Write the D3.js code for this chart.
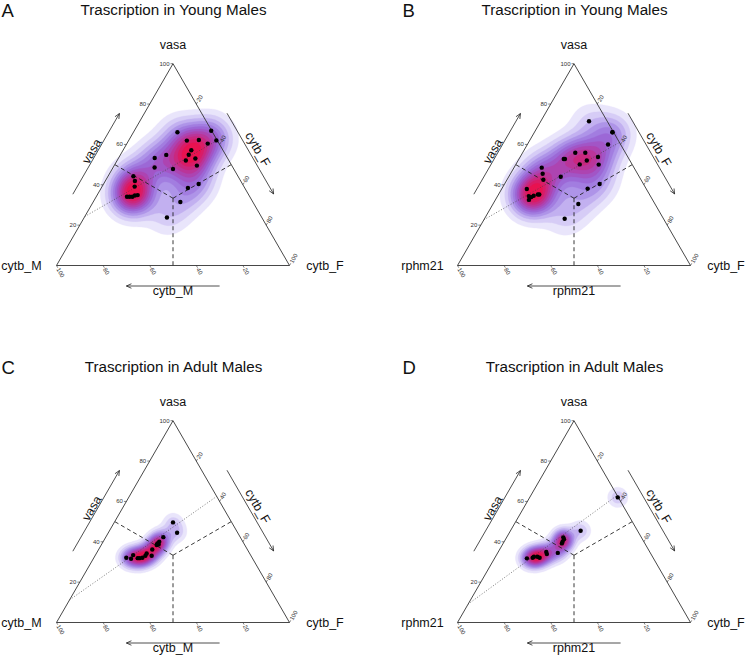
<!DOCTYPE html>
<html><head><meta charset="utf-8">
<script src="https://cdn.jsdelivr.net/npm/d3@7"></script>
<style>
body{margin:0;background:#fff}
text{font-family:"Liberation Sans",Arial,Helvetica,sans-serif;fill:#111}
</style>
</head><body>
<svg id="chart" width="745" height="657"></svg>
<script>
// ---------------- data ----------------
const panelLetters = ["A", "B", "C", "D"];
const panelTitles = ["Trascription in Young Males", "Trascription in Young Males",
                     "Trascription in Adult Males", "Trascription in Adult Males"];
const topLabels = ["vasa", "vasa", "vasa", "vasa"];
const leftLabels = ["cytb_M", "rphm21", "cytb_M", "rphm21"];
const rightLabels = ["cytb_F", "cytb_F", "cytb_F", "cytb_F"];
const tickValues = [20, 40, 60, 80, 100];

// each point: [vasa %, cytb_F %]  (left-corner gene = 100 - vasa - cytb_F)
const youngCytbM = [
  [66.0,18.9],[66.8,33.0],[62.0,37.6],[61.9,25.0],[62.2,30.0],[60.4,34.7],[57.1,29.3],
  [54.9,29.3],[53.0,33.1],[52.0,29.5],[49.5,35.5],[53.3,15.5],[54.8,19.7],[48.6,17.8],
  [47.8,26.1],[44.2,10.9],[41.9,12.7],[39.1,14.0],[34.1,13.2],[34.1,14.3],[34.1,15.5],
  [34.7,16.3],[34.9,17.4],[38.4,37.2],[40.4,40.8],[31.5,37.4],[23.8,35.5]
];
const youngRphm21 = [
  [71.5,20.7],[66.0,33.5],[66.0,33.5],[60.0,34.6],[55.9,22.6],[55.9,26.9],[53.8,33.4],
  [52.0,29.5],[50.1,27.4],[50.0,35.6],[52.8,19.2],[52.8,19.7],[48.5,11.9],[45.5,13.8],
  [42.5,15.6],[44.0,22.3],[37.9,10.8],[34.4,13.4],[33.9,14.7],[34.6,15.4],[35.2,16.9],
  [32.5,14.4],[35.2,17.5],[38.1,36.8],[40.4,40.8],[30.5,36.6],[23.2,34.4]
];
const adultCytbM = [
  [49.6,25.2],[44.5,29.5],[42.3,24.7],[40.0,24.1],[39.2,23.7],[38.7,24.5],[38.4,23.8],
  [36.2,23.0],[33.1,24.3],[34.2,21.6],[33.1,21.6],[32.1,20.8],[31.9,19.7],[31.9,18.9],
  [33.4,16.2],[31.6,16.2],[32.1,13.9]
];
const adultRphm21 = [
  [62.0,37.8],[45.5,30.1],[42.2,24.3],[41.2,25.1],[40.0,25.1],[39.2,25.2],[34.5,25.8],
  [35.0,20.6],[33.9,21.4],[32.1,19.2],[32.6,18.0],[32.6,16.5],[32.1,16.2],[31.8,13.9]
];
const panelPoints = [youngCytbM, youngRphm21, adultCytbM, adultRphm21];

// dotted reference lines: [start, end] as [vasa %, cytb_F %]
const dottedLines = [
  [[24.3, 0], [62.0, 38.0]],
  [[22.7, 0], [61.0, 39.0]],
  [[11.2, 0], [62.5, 37.5]],
  [[9.1, 0], [63.0, 37.0]]
];
// KDE bandwidth (px) per panel
const bandwidths = [14, 14, 7, 7];

// ---------------- layout ----------------
const panelOffsets = [[0, 0], [401, 0], [0, 357], [401, 357]];
const TL = 56.5, TR = 289.5, TB = 265.5;
const TT = TB - (TR - TL) * Math.sqrt(3) / 2;
const densityColors = ["#E9E5FB","#D6CCF6","#C2B0F0","#AE94E8","#A27DE0","#9C68D6",
                       "#A255C6","#AD44B1","#BA3599","#C9287F","#D91C66","#E81250"];

const svg = d3.select("#chart");
const xs = d3.scaleLinear().domain([0, 100]).range([TL, TR]);
const ys = d3.scaleLinear().domain([0, 100]).range([TB, TT]);
const P = (v, f) => [xs(f + v / 2), ys(v)];

function arrow(g, a, b) {
  g.append("line").attr("x1", a[0]).attr("y1", a[1]).attr("x2", b[0]).attr("y2", b[1])
    .attr("stroke", "#222").attr("stroke-width", 0.8);
  const ang = Math.atan2(b[1] - a[1], b[0] - a[0]);
  const L = 5.5, w = 0.42;
  [ang + Math.PI - w, ang + Math.PI + w].forEach(t => {
    g.append("line").attr("x1", b[0]).attr("y1", b[1])
      .attr("x2", b[0] + L * Math.cos(t)).attr("y2", b[1] + L * Math.sin(t))
      .attr("stroke", "#222").attr("stroke-width", 0.8);
  });
}
const add = (p, n, d) => [p[0] + n[0] * d, p[1] + n[1] * d];
const nLeft = [-Math.sqrt(3) / 2, -0.5], nRight = [Math.sqrt(3) / 2, -0.5], nBottom = [0, 1];

panelPoints.forEach((pts, i) => {
  const g = svg.append("g").attr("transform", `translate(${panelOffsets[i][0]},${panelOffsets[i][1]})`);

  // density contours
  const cell = 2, W = 372, H = 330;
  const nx = Math.ceil(W / cell), ny = Math.ceil(H / cell);
  const proj = pts.map(p => P(p[0], p[1]));
  const bw = bandwidths[i];
  const vals = new Array(nx * ny);
  let mx = 0;
  for (let j = 0; j < ny; j++) {
    for (let k = 0; k < nx; k++) {
      const cx = (k + 0.5) * cell, cy = (j + 0.5) * cell;
      let s = 0;
      for (const q of proj) {
        const dx = cx - q[0], dy = cy - q[1];
        s += Math.exp(-(dx * dx + dy * dy) / (2 * bw * bw));
      }
      vals[j * nx + k] = s;
      if (s > mx) mx = s;
    }
  }
  const nLev = densityColors.length;
  const ths = d3.range(nLev).map(k => mx * (0.075 + 0.075 * k));
  const contours = d3.contours().size([nx, ny]).thresholds(ths)(vals);
  const path = d3.geoPath(d3.geoTransform({
    point: function (x, y) { this.stream.point(x * cell, y * cell); }
  }));
  g.append("g").selectAll("path").data(contours).join("path")
    .attr("d", path)
    .attr("fill", (d, k) => densityColors[k])
    .attr("stroke", (d, k) => densityColors[k]).attr("stroke-width", 0.3);

  // triangle
  const A = P(100, 0), BL = P(0, 0), BR = P(0, 100);
  g.append("path").attr("d", `M${A}L${BL}L${BR}Z`).attr("fill", "none")
    .attr("stroke", "#333").attr("stroke-width", 0.9);

  // dashed lines from centroid to edge midpoints
  const C = P(100 / 3, 100 / 3);
  [P(50, 0), P(50, 50), P(0, 50)].forEach(m => {
    g.append("line").attr("x1", C[0]).attr("y1", C[1]).attr("x2", m[0]).attr("y2", m[1])
      .attr("stroke", "#222").attr("stroke-width", 0.9).attr("stroke-dasharray", "4,3");
  });

  // dotted line
  const dl = dottedLines[i].map(p => P(p[0], p[1]));
  g.append("line").attr("x1", dl[0][0]).attr("y1", dl[0][1]).attr("x2", dl[1][0]).attr("y2", dl[1][1])
    .attr("stroke", "#444").attr("stroke-width", 0.7).attr("stroke-dasharray", "1,1.8");

  // points
  g.append("g").selectAll("circle").data(proj).join("circle")
    .attr("cx", d => d[0]).attr("cy", d => d[1]).attr("r", 2.2).attr("fill", "#000");

  // ticks + tick labels
  const tk = g.append("g");
  const dirB = [0.5, Math.sqrt(3) / 2], dirR = [0.5, -Math.sqrt(3) / 2];
  tickValues.forEach(t => {
    let p = P(t, 0);
    tk.append("line").attr("x1", p[0]).attr("y1", p[1]).attr("x2", p[0] - 2.5).attr("y2", p[1])
      .attr("stroke", "#333").attr("stroke-width", 0.6);
    tk.append("text").attr("x", p[0] - 3.5).attr("y", p[1] + 2).attr("text-anchor", "end")
      .attr("font-size", 6).style("fill", "#333").text(t);
    p = P(0, 100 - t);
    let q = add(p, dirB, 2.5);
    tk.append("line").attr("x1", p[0]).attr("y1", p[1]).attr("x2", q[0]).attr("y2", q[1])
      .attr("stroke", "#333").attr("stroke-width", 0.6);
    q = add(p, dirB, 3.2);
    tk.append("text").attr("transform", `translate(${q[0]},${q[1]}) rotate(60)`)
      .attr("dy", "0.35em").attr("font-size", 6).style("fill", "#333").text(t);
    p = P(100 - t, t);
    q = add(p, dirR, 2.5);
    tk.append("line").attr("x1", p[0]).attr("y1", p[1]).attr("x2", q[0]).attr("y2", q[1])
      .attr("stroke", "#333").attr("stroke-width", 0.6);
    q = add(p, dirR, 3.2);
    tk.append("text").attr("transform", `translate(${q[0]},${q[1]}) rotate(-60)`)
      .attr("dy", "0.35em").attr("font-size", 6).style("fill", "#333").text(t);
  });

  // axis arrows
  arrow(g, add(P(30, 0), nLeft, 21.5), add(P(70, 0), nLeft, 21.5));
  arrow(g, add(P(70, 30), nRight, 22), add(P(30, 70), nRight, 22));
  arrow(g, add(P(0, 70), nBottom, 20.5), add(P(0, 30), nBottom, 20.5));

  // axis-arrow labels
  let lp = add(P(50, 0), nLeft, 22.5);
  g.append("text").attr("transform", `translate(${lp[0]},${lp[1]}) rotate(-60)`)
    .attr("text-anchor", "middle").attr("font-size", 12.5).text(topLabels[i]);
  lp = add(P(50, 50), nRight, 26.5);
  g.append("text").attr("transform", `translate(${lp[0]},${lp[1]}) rotate(60)`)
    .attr("text-anchor", "middle").attr("font-size", 12.5).text(rightLabels[i]);
  lp = add(P(0, 50), nBottom, 29.5);
  g.append("text").attr("x", lp[0]).attr("y", lp[1])
    .attr("text-anchor", "middle").attr("font-size", 12.5).text(leftLabels[i]);

  // corner labels
  g.append("text").attr("x", A[0]).attr("y", A[1] - 14.5).attr("text-anchor", "middle")
    .attr("font-size", 12.5).text(topLabels[i]);
  g.append("text").attr("x", BL[0] - 35).attr("y", BL[1] + 4).attr("text-anchor", "middle")
    .attr("font-size", 12.5).text(leftLabels[i]);
  g.append("text").attr("x", BR[0] + 35.5).attr("y", BR[1] + 4).attr("text-anchor", "middle")
    .attr("font-size", 12.5).text(rightLabels[i]);

  // title and letter
  g.append("text").attr("x", 173.5).attr("y", 14.5).attr("text-anchor", "middle")
    .attr("font-size", 15.2).text(panelTitles[i]);
  g.append("text").attr("x", 1.5).attr("y", 16.7).attr("font-size", 18.5).text(panelLetters[i]);
});
</script>
</body></html>
